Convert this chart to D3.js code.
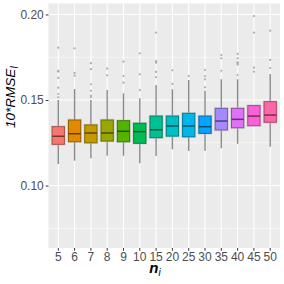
<!DOCTYPE html>
<html>
<head>
<meta charset="utf-8">
<script src="https://cdn.jsdelivr.net/npm/d3@7"></script>
<style>
  body { margin: 0; background: #fff; }
  text { font-family: "Liberation Sans", Arial, sans-serif; }
</style>
</head>
<body>
<svg width="284" height="284"></svg>
<script>
// values
const cats = ['5', '6', '7', '8', '9', '10', '15', '20', '25', '30', '35', '40', '45', '50'];
const lower = [0.1126, 0.1145, 0.1159, 0.1174, 0.1174, 0.1130, 0.1173, 0.1212, 0.1202, 0.1204, 0.1218, 0.1244, 0.1350, 0.1227];
const q1 = [0.1241, 0.1256, 0.1250, 0.1260, 0.1256, 0.1247, 0.1280, 0.1289, 0.1285, 0.1305, 0.1325, 0.1338, 0.1350, 0.1370];
const median = [0.1288, 0.1303, 0.1307, 0.1307, 0.1317, 0.1315, 0.1326, 0.1348, 0.1348, 0.1344, 0.1377, 0.1387, 0.1406, 0.1412];
const q3 = [0.1344, 0.1383, 0.1354, 0.1383, 0.1379, 0.1364, 0.1406, 0.1406, 0.1422, 0.1406, 0.1451, 0.1451, 0.1467, 0.1490];
const upper = [0.1500, 0.1564, 0.1500, 0.1558, 0.1539, 0.1510, 0.1588, 0.1563, 0.1617, 0.1554, 0.1621, 0.1621, 0.1467, 0.1652];
const outliers = [
  [0.1806, 0.1671, 0.1665, 0.1629, 0.1572, 0.1535, 0.1516],
  [0.1802, 0.1658, 0.1642],
  [0.1715, 0.1680, 0.1592, 0.1554, 0.1525, 0.1516],
  [0.1683, 0.1644],
  [0.1724, 0.1640, 0.1601],
  [0.1773, 0.1650, 0.1558],
  [0.1894, 0.1728, 0.1718, 0.1664, 0.1634],
  [0.1674, 0.1594],
  [0.1640],
  [0.1675, 0.1640, 0.1621, 0.1574],
  [0.1763, 0.1744, 0.1671],
  [0.1769, 0.1744, 0.1720, 0.1715, 0.1706, 0.1646],
  [0.1991, 0.1894, 0.1689, 0.1665],
  [0.1905, 0.1734, 0.1687]
];
const colors = ['#F8766D', '#E38900', '#C49A00', '#99A800', '#53B400', '#00BC56', '#00C094',
  '#00BFC4', '#00B6EB', '#06A4FF', '#A58AFF', '#DF70F8', '#FB61D7', '#FF66A8'];
const yTicks = [0.10, 0.15, 0.20];
const yMinor = [0.075, 0.125, 0.175];

const svg = d3.select('svg');
const pLeft = 48.5, pRight = 280, pTop = 3.5, pBottom = 248;

const x = d3.scaleBand().domain(cats).range([pLeft, pRight]).paddingInner(0).paddingOuter(0.1);
const y = d3.scaleLinear().domain([0.0635, 0.2064]).range([pBottom, pTop]);
const cx = (c) => x(c) + x.bandwidth() / 2;
const bw = x.bandwidth() * 0.75;

// panel + grid
svg.append('rect')
  .attr('x', pLeft).attr('y', pTop)
  .attr('width', pRight - pLeft).attr('height', pBottom - pTop)
  .attr('fill', '#EBEBEB');

svg.selectAll('.minor').data(yMinor).enter().append('line')
  .attr('x1', pLeft).attr('x2', pRight)
  .attr('y1', (d) => y(d)).attr('y2', (d) => y(d))
  .attr('stroke', '#fff').attr('stroke-width', 0.6);

svg.selectAll('.hmajor').data(yTicks).enter().append('line')
  .attr('x1', pLeft).attr('x2', pRight)
  .attr('y1', (d) => y(d)).attr('y2', (d) => y(d))
  .attr('stroke', '#fff').attr('stroke-width', 1.1);

svg.selectAll('.vmajor').data(cats).enter().append('line')
  .attr('x1', cx).attr('x2', cx)
  .attr('y1', pTop).attr('y2', pBottom)
  .attr('stroke', '#fff').attr('stroke-width', 1.1);

const data = cats.map((c, i) => ({
  cat: c, lo: lower[i], q1: q1[i], med: median[i], q3: q3[i], hi: upper[i],
  out: outliers[i], col: colors[i]
}));

const g = svg.selectAll('.box').data(data).enter().append('g');

// whiskers
g.append('line')
  .attr('x1', (d) => cx(d.cat)).attr('x2', (d) => cx(d.cat))
  .attr('y1', (d) => y(d.hi)).attr('y2', (d) => y(d.q3))
  .attr('stroke', '#8a8a8a').attr('stroke-width', 1.4);
g.append('line')
  .attr('x1', (d) => cx(d.cat)).attr('x2', (d) => cx(d.cat))
  .attr('y1', (d) => y(d.q1)).attr('y2', (d) => y(d.lo))
  .attr('stroke', '#8a8a8a').attr('stroke-width', 1.4);

// outliers
g.selectAll('circle').data((d) => d.out.map((v) => ({ v, cat: d.cat }))).enter().append('circle')
  .attr('cx', (d) => cx(d.cat)).attr('cy', (d) => y(d.v))
  .attr('r', 1.1)
  .attr('fill', '#9a9a9a').attr('fill-opacity', 0.8);

// boxes (light halo + box)
g.append('rect')
  .attr('x', (d) => cx(d.cat) - bw / 2)
  .attr('y', (d) => y(d.q3))
  .attr('width', bw)
  .attr('height', (d) => y(d.q1) - y(d.q3))
  .attr('fill', 'none')
  .attr('stroke', '#bbb').attr('stroke-opacity', 0.6)
  .attr('stroke-width', 2.4);
g.append('rect')
  .attr('x', (d) => cx(d.cat) - bw / 2)
  .attr('y', (d) => y(d.q3))
  .attr('width', bw)
  .attr('height', (d) => y(d.q1) - y(d.q3))
  .attr('fill', (d) => d.col)
  .attr('stroke', (d) => d3.color(d.col).darker(1.1))
  .attr('stroke-width', 1);

g.append('line')
  .attr('x1', (d) => cx(d.cat) - bw / 2).attr('x2', (d) => cx(d.cat) + bw / 2)
  .attr('y1', (d) => y(d.med)).attr('y2', (d) => y(d.med))
  .attr('stroke', (d) => d3.color(d.col).darker(2.2))
  .attr('stroke-width', 1.5);

// axes
const yAxis = svg.append('g')
  .attr('transform', `translate(${pLeft},0)`)
  .call(d3.axisLeft(y).tickValues(yTicks).tickFormat(d3.format('.2f')).tickSize(2.75).tickPadding(2));
const xAxis = svg.append('g')
  .attr('transform', `translate(0,${pBottom})`)
  .call(d3.axisBottom(x).tickSize(2.75).tickPadding(2));

[yAxis, xAxis].forEach((a) => {
  a.select('.domain').remove();
  a.selectAll('line').attr('stroke', '#333');
  a.selectAll('text').attr('fill', '#4D4D4D').style('font-size', '12px')
    .style('font-family', '"Liberation Sans", Arial, sans-serif');
});

// titles
const yt = svg.append('text')
  .attr('transform', 'translate(15,97) rotate(-90)')
  .attr('text-anchor', 'middle')
  .style('font-size', '13.5px').style('font-style', 'italic')
  .attr('fill', '#000');
yt.append('tspan').text('10*RMSE');
yt.append('tspan').attr('dy', 3).style('font-size', '10px').text('I');

const xt = svg.append('text')
  .attr('x', 155).attr('y', 273)
  .attr('text-anchor', 'middle')
  .style('font-size', '15px').style('font-style', 'italic').style('font-weight', 'bold')
  .attr('fill', '#000');
xt.append('tspan').text('n');
xt.append('tspan').attr('dy', 3).style('font-size', '10px').style('font-weight', 'normal').text('i');
</script>
</body>
</html>
